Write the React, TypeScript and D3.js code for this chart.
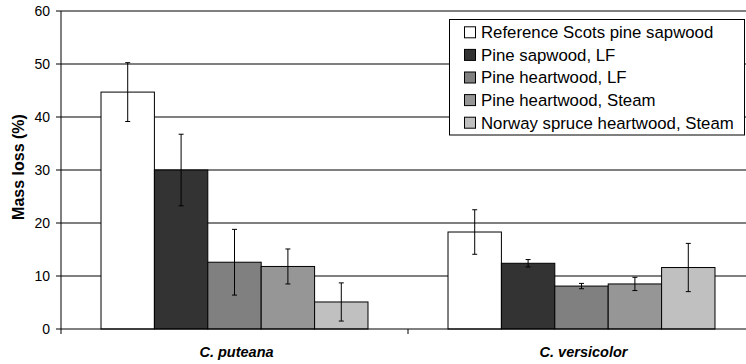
import * as d3 from "d3";

const categories = ["C. puteana", "C. versicolor"];
const series = [
  "Reference Scots pine sapwood",
  "Pine sapwood, LF",
  "Pine heartwood, LF",
  "Pine heartwood, Steam",
  "Norway spruce heartwood, Steam",
];
const colors = ["#ffffff", "#333333", "#808080", "#969696", "#c0c0c0"];
// mean mass loss per series, one entry per category
const means = [
  [44.7, 18.3],
  [30.0, 12.4],
  [12.6, 8.1],
  [11.8, 8.5],
  [5.1, 11.6],
];
const errors = [
  [5.55, 4.2],
  [6.75, 0.7],
  [6.2, 0.5],
  [3.3, 1.25],
  [3.6, 4.55],
];
const yTicks = [0, 10, 20, 30, 40, 50, 60];

const W = 746;
const H = 364;
const left = 61;
const right = 755;
const top = 11;
const bottom = 329;
const font = "Arial, 'Liberation Sans', sans-serif";

export default function App() {
  const x0 = d3.scaleBand().domain(categories).range([left, right]);
  const bw = x0.bandwidth();
  const x1 = d3
    .scaleBand()
    .domain(series)
    .range([bw * 0.1153, bw * 0.8847]);
  const y = d3.scaleLinear().domain([0, 60]).range([bottom, top]);

  const catTicks = [left, ...categories.map((c) => (x0(c) ?? 0) + bw)];

  return (
    <svg
      width={W}
      height={H}
      style={{ position: "absolute", left: 0, top: 0, background: "#fff" }}
      fontFamily={font}
    >
      {/* gridlines */}
      {yTicks.slice(1).map((t) => (
        <line key={t} x1={left} x2={right} y1={y(t)} y2={y(t)} stroke="#000" strokeWidth={1} />
      ))}
      {/* y axis */}
      <line x1={left} x2={left} y1={top} y2={bottom} stroke="#000" />
      {yTicks.map((t) => (
        <g key={t}>
          <line x1={left - 5} x2={left} y1={y(t)} y2={y(t)} stroke="#000" />
          <text x={50} y={y(t)} dy="0.35em" textAnchor="end" fontSize={14} fill="#000">
            {t}
          </text>
        </g>
      ))}
      <text
        transform={`translate(23.5, 167) rotate(-90)`}
        textAnchor="middle"
        fontSize={16}
        fontWeight="bold"
      >
        Mass loss (%)
      </text>

      {/* bars */}
      {categories.map((c, ci) => (
        <g key={c} transform={`translate(${x0(c)},0)`}>
          {series.map((s, si) => {
            const v = means[si][ci];
            const e = errors[si][ci];
            const bx = x1(s) ?? 0;
            const cx = bx + x1.bandwidth() / 2;
            return (
              <g key={s}>
                <rect
                  x={bx}
                  y={y(v)}
                  width={x1.bandwidth()}
                  height={y(0) - y(v)}
                  fill={colors[si]}
                  stroke="#000"
                />
                <line x1={cx} x2={cx} y1={y(v + e)} y2={y(v - e)} stroke="#000" />
                <line x1={cx - 2.5} x2={cx + 2.5} y1={y(v + e)} y2={y(v + e)} stroke="#000" />
                <line x1={cx - 2.5} x2={cx + 2.5} y1={y(v - e)} y2={y(v - e)} stroke="#000" />
              </g>
            );
          })}
          <text
            x={bw / 2 + 2}
            y={357}
            textAnchor="middle"
            fontSize={14.5}
            fontWeight="bold"
            fontStyle="italic"
          >
            {c}
          </text>
        </g>
      ))}

      {/* x axis */}
      <line x1={left} x2={right} y1={bottom} y2={bottom} stroke="#000" />
      {catTicks.map((t, i) => (
        <line key={i} x1={t} x2={t} y1={bottom} y2={bottom + 5} stroke="#000" />
      ))}

      {/* legend */}
      <rect x={449.5} y={19.5} width={295} height={115.5} fill="#fff" stroke="#000" />
      {series.map((s, i) => {
        const ly = 32.3 + i * 22.6;
        return (
          <g key={s}>
            <rect x={464.5} y={ly - 5.5} width={11} height={11} fill={colors[i]} stroke="#000" />
            <text x={481} y={ly} dy="0.35em" fontSize={16.8} fill="#000">
              {s}
            </text>
          </g>
        );
      })}
    </svg>
  );
}
